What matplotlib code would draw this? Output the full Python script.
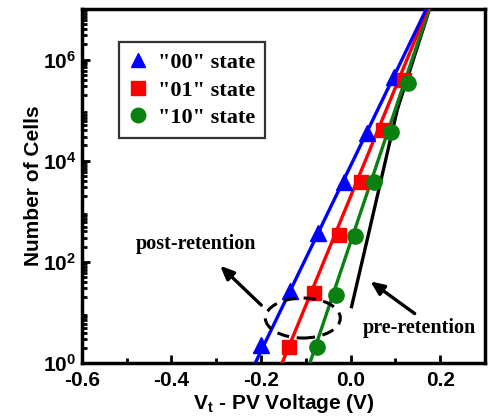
import numpy as np
import matplotlib
matplotlib.use("Agg")
import matplotlib.pyplot as plt
from matplotlib.patches import Ellipse
from matplotlib.ticker import LogLocator, FixedLocator, NullFormatter

plt.rcParams["mathtext.fontset"] = "custom"
plt.rcParams["mathtext.bf"] = "Liberation Sans:bold"
plt.rcParams["mathtext.rm"] = "Liberation Sans:bold"

# ---- data ----
x00 = [-0.200, -0.136, -0.073, -0.016, 0.036, 0.096]
y00 = [2.3, 27, 375, 3800, 36000, 460000]
x01 = [-0.138, -0.082, -0.027, 0.024, 0.073, 0.118]
y01 = [2.1, 24, 340, 3800, 41000, 400000]
x10 = [-0.076, -0.033, 0.009, 0.053, 0.089, 0.129]
y10 = [2.1, 22, 320, 3800, 37000, 350000]

# fitted lines (x at N=1 and N=1e7)
fit00_x = [-0.213, 0.169]
fit01_x = [-0.153, 0.172]
fit10_x = [-0.091, 0.175]
fit_y = [1, 1e7]
# pre-retention curve
pre_x = [0.002, 0.042, 0.104, 0.176]
pre_y = [13, 430, 1.02e5, 1e7]

labels = ['"00" state', '"01" state', '"10" state']
xticks = [-0.6, -0.4, -0.2, 0.0, 0.2]
xticklabels = ["-0.6", "-0.4", "-0.2", "0.0", "0.2"]
yticks = [1, 1e2, 1e4, 1e6]
yticklabels = [r"$\mathbf{10^{0}}$", r"$\mathbf{10^{2}}$", r"$\mathbf{10^{4}}$", r"$\mathbf{10^{6}}$"]

sans = "Liberation Sans"
serif = "Liberation Serif"

fig = plt.figure(figsize=(4.9, 4.19), dpi=100)
ax = fig.add_axes([0.167, 0.1337, 0.823, 0.8448])

lw = 2.4
green = "#0a8010"
ax.plot(pre_x, pre_y, color="black", lw=lw, zorder=2)
ax.plot(fit10_x, fit_y, color=green, lw=lw, zorder=3)
ax.plot(fit01_x, fit_y, color="red", lw=lw, zorder=3)
ax.plot(fit00_x, fit_y, color="blue", lw=lw, zorder=3)
ax.plot(x00, y00, "^", color="blue", ms=11, ls="none", label=labels[0], zorder=4)
ax.plot(x01, y01, "s", color="red", ms=10, ls="none", label=labels[1], zorder=4)
ax.plot(x10, y10, "o", color=green, ms=11, ls="none", label=labels[2], zorder=4)

ax.set_yscale("log")
ax.set_xlim(-0.6, 0.3)
ax.set_ylim(1, 1e7)

ax.set_xticks(xticks)
ax.set_xticklabels(xticklabels)
ax.xaxis.set_minor_locator(FixedLocator([-0.5, -0.3, -0.1, 0.1]))
ax.set_yticks(yticks)
ax.set_yticklabels(yticklabels)
ax.yaxis.set_minor_locator(LogLocator(base=10, subs=np.arange(2, 10), numticks=20))
ax.yaxis.set_minor_formatter(NullFormatter())

for lab in ax.get_xticklabels() + ax.get_yticklabels():
    lab.set_fontfamily(sans)
    lab.set_fontweight("bold")
    lab.set_fontsize(15)

ax.tick_params(which="both", direction="in", top=False, right=False, width=2)
ax.tick_params(axis="x", which="major", length=6, pad=6)
ax.tick_params(axis="y", which="major", length=6, pad=4)
ax.tick_params(which="minor", length=3.5)
for s in ax.spines.values():
    s.set_linewidth(2.5)

ax.set_ylabel("Number of Cells", fontfamily=sans, fontweight="bold", fontsize=15, labelpad=0)
ax.set_xlabel(r"V$_\mathregular{t}$ - PV Voltage (V)", fontfamily=sans, fontweight="bold", fontsize=15, labelpad=1)

leg = ax.legend(loc="upper left", bbox_to_anchor=(0.092, 0.906), prop={"family": serif, "weight": "bold", "size": 16},
                frameon=True, fancybox=False, edgecolor="black", handlelength=0.8, handletextpad=0.5,
                borderpad=0.45, labelspacing=0.32, borderaxespad=0, numpoints=1, markerscale=0.95)
leg.get_frame().set_linewidth(1.6)

# dashed ellipse (axes coordinates)
ell = Ellipse((0.548, 0.127), 0.186, 0.113, angle=0, transform=ax.transAxes,
              fill=False, ls=(0, (4, 2.5)), lw=2.2, color="black", zorder=5)
ax.add_patch(ell)

ax.annotate("", xy=(0.338, 0.28), xytext=(0.45, 0.158), xycoords="axes fraction",
            arrowprops=dict(arrowstyle="-|>,head_length=0.8,head_width=0.35", lw=2.4, color="black"))
ax.text(0.283, 0.335, "post-retention", transform=ax.transAxes, ha="center", va="center",
        fontfamily=serif, fontweight="bold", fontsize=14.5)
ax.annotate("", xy=(0.71, 0.235), xytext=(0.831, 0.135), xycoords="axes fraction",
            arrowprops=dict(arrowstyle="-|>,head_length=0.8,head_width=0.35", lw=2.4, color="black"))
ax.text(0.838, 0.099, "pre-retention", transform=ax.transAxes, ha="center", va="center",
        fontfamily=serif, fontweight="bold", fontsize=14.5)

fig.savefig("out.png", dpi=100)
